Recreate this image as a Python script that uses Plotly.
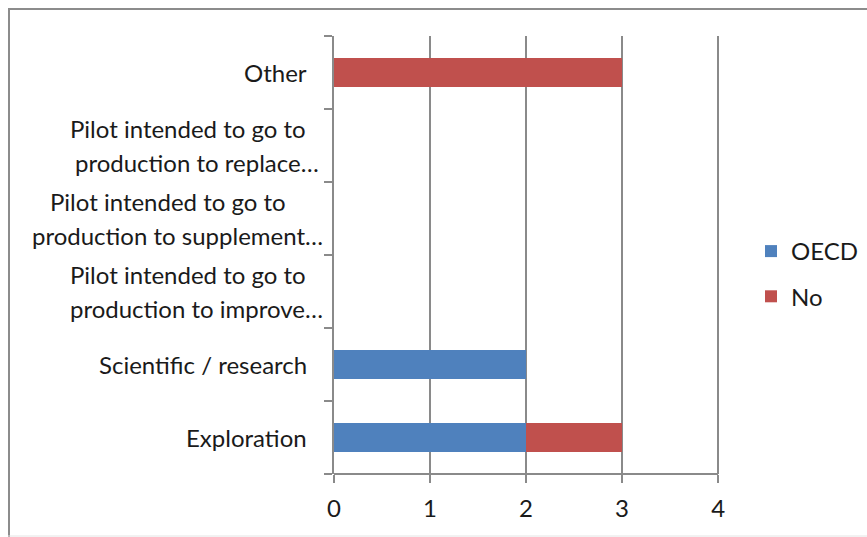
import plotly.graph_objects as go

# Categories, listed bottom to top on the vertical axis
categories = [
    "Exploration",
    "Scientific / research",
    "Pilot intended to go to production to improve…",
    "Pilot intended to go to production to supplement…",
    "Pilot intended to go to production to replace…",
    "Other",
]
# How each category label is wrapped
label_lines = [
    ["Exploration"],
    ["Scientific / research"],
    ["Pilot intended to go to", "production to improve…"],
    ["Pilot intended to go to", "production to supplement…"],
    ["Pilot intended to go to", "production to replace…"],
    ["Other"],
]
oecd_values = [2, 2, 0, 0, 0, 0]
no_values = [1, 0, 0, 0, 0, 3]
x_ticks = [0, 1, 2, 3, 4]
x_max = 4.02  # a hair past the last tick so its gridline is kept

FONT = "Lato, Calibri, Carlito, sans-serif"
FS = 24
TEXT = "#1a1a1a"
GREY = "#8a8a8a"

# plot area in pixels
W, H = 867, 537
L, R, T, B = 334, 720, 36, 474

fig = go.Figure()
fig.add_trace(go.Bar(
    y=categories, x=oecd_values, orientation="h", name="OECD",
    marker=dict(color="#4F81BD", line=dict(width=0)), legendgroup="a",
))
fig.add_trace(go.Bar(
    y=categories, x=no_values, orientation="h", name="No",
    marker=dict(color="#C0504D", line=dict(width=0)), legendgroup="b",
))

# category labels drawn as text beside the axis (centred lines for wrapped labels)
line_gap = 34
wrapped_centres = {
    2: [188, 196],
    3: [168, 177],
    4: [188, 196.5],
}
annotations = []
for i, lines in enumerate(label_lines):
    if len(lines) == 1:
        annotations.append(dict(
            x=0, xref="paper", y=categories[i], yref="y",
            text=lines[0], showarrow=False, xanchor="right", yanchor="middle",
            xshift=309 - L, font=dict(family=FONT, size=FS, color=TEXT),
        ))
    else:
        for j, line in enumerate(lines):
            annotations.append(dict(
                x=0, xref="paper", y=categories[i], yref="y",
                text=line, showarrow=False, xanchor="center", yanchor="middle",
                xshift=wrapped_centres[i][j] - L,
                yshift=(0.5 - j) * line_gap,
                font=dict(family=FONT, size=FS, color=TEXT),
            ))

pw, ph = R - L, B - T


def px_x(v):
    return (v - L) / pw


def px_y(v):
    return (B - v) / ph


shapes = [
    # outer frame (left and top edges)
    dict(type="line", xref="paper", yref="paper", x0=px_x(9), x1=px_x(9),
         y0=px_y(9), y1=px_y(540), line=dict(color="#8c8c8c", width=2)),
    dict(type="line", xref="paper", yref="paper", x0=px_x(8), x1=px_x(870),
         y0=px_y(9), y1=px_y(9), line=dict(color="#8c8c8c", width=2)),
    dict(type="line", xref="paper", yref="paper", x0=px_x(8), x1=px_x(870),
         y0=px_y(536), y1=px_y(536), line=dict(color="#e4e4e4", width=1)),
]

fig.update_layout(
    width=W, height=H,
    margin=dict(l=L, r=W - R, t=T, b=H - B, pad=0, autoexpand=False),
    paper_bgcolor="white", plot_bgcolor="white",
    barmode="stack", bargap=0.6,
    font=dict(family=FONT, size=FS, color=TEXT),
    showlegend=True,
    legend=dict(
        x=px_x(751), y=px_y(229), xanchor="left", yanchor="top",
        traceorder="grouped", tracegroupgap=11,
        font=dict(family=FONT, size=FS, color=TEXT),
        bgcolor="rgba(0,0,0,0)",
    ),
    annotations=annotations,
    shapes=shapes,
)
fig.update_xaxes(
    range=[0, x_max], tickvals=x_ticks, ticktext=[str(v) for v in x_ticks],
    showgrid=True, gridcolor=GREY, gridwidth=2,
    showline=False,
    ticks="outside", ticklen=8, tickwidth=2, tickcolor=GREY,
    ticklabelstandoff=5, zeroline=False,
    tickfont=dict(family=FONT, size=FS, color=TEXT),
)
fig.update_yaxes(
    type="category", categoryorder="array", categoryarray=categories,
    range=[-0.5, len(categories) - 0.5],
    showticklabels=False, showgrid=False, zeroline=False,
    showline=True, linecolor=GREY, linewidth=2,
    ticks="outside", tickson="boundaries", ticklen=8, tickwidth=2, tickcolor=GREY,
)
# horizontal axis line running from the y axis to the last tick
fig.add_shape(type="line", xref="x", yref="paper", x0=x_ticks[0], x1=x_ticks[-1],
              y0=0, y1=0, line=dict(color=GREY, width=2))

fig.write_html("out.html")
